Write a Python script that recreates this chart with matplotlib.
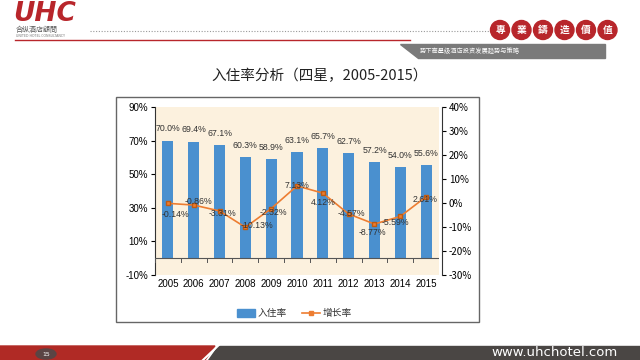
import matplotlib
matplotlib.use("Agg")
import matplotlib.pyplot as plt
from matplotlib.patches import Rectangle, Ellipse, Polygon, Circle
import numpy as np

plt.rcParams['font.family'] = ['Noto Sans CJK SC', 'DejaVu Sans']

years = ['2005', '2006', '2007', '2008', '2009', '2010', '2011', '2012', '2013', '2014', '2015']
occupancy = [70.0, 69.4, 67.1, 60.3, 58.9, 63.1, 65.7, 62.7, 57.2, 54.0, 55.6]
growth = [-0.14, -0.86, -3.31, -10.13, -2.32, 7.13, 4.12, -4.57, -8.77, -5.59, 2.61]
left_ticks = [-10, 10, 30, 50, 70, 90]
right_ticks = [-30, -20, -10, 0, 10, 20, 30, 40]
title = '入住率分析（四星，2005-2015）'
legend_labels = ['入住率', '增长率']

NUM = ['Liberation Sans', 'Noto Sans CJK SC']

W, H = 640, 360
fig = plt.figure(figsize=(6.4, 3.6), dpi=100)
fig.patch.set_facecolor('white')

ov = fig.add_axes([0, 0, 1, 1], zorder=0)
ov.set_xlim(0, W); ov.set_ylim(H, 0); ov.axis('off')

# header
ov.text(13, 14, 'UHC', fontsize=19, fontweight='bold', color='#b8262b', va='center', ha='left',
        family=['DejaVu Sans'], style='italic')
ov.text(16, 30, '合纵酒店顧問', fontsize=5, color='#555555', va='center', ha='left')
ov.text(16, 36, 'UNITED HOTEL CONSULTANCY', fontsize=2.3, color='#777777', va='center', ha='left',
        family=['DejaVu Sans'])
ov.plot([90, 490], [31, 31], color='#999999', lw=0.8, ls=(0, (1, 1.5)))
ov.plot([15, 410], [40, 40], color='#b8262b', lw=1.0)
for i, ch in enumerate('專業鑄造價值'):
    cx = 500 + i * 21.5
    ov.add_patch(Circle((cx, 30), 9.5, color='#b8262b'))
    ov.text(cx, 30, ch, fontsize=7, color='white', ha='center', va='center', fontweight='bold')
ov.add_patch(Polygon([[400, 44], [605, 44], [605, 58], [418, 58]], closed=True, color='#7a7a7a'))
ov.text(420, 51, '势下高星级酒店投资发展趋势与策略', fontsize=4.5, color='white', ha='left', va='center')

# title
ov.text(320, 76, title, fontsize=10.5, color='#222222', ha='center', va='center')

# chart frame
ov.add_patch(Rectangle((116, 97), 363, 225, fill=False, ec='#666666', lw=1.0))

# footer
ov.add_patch(Polygon([[0, 346], [215, 346], [205, 360], [0, 360]], closed=True, color='#b02a25'))
ov.add_patch(Polygon([[218, 346], [640, 346], [640, 360], [208, 360]], closed=True, color='#4a4644'))
ov.plot([203, 221], [360, 343], color='white', lw=1.5)
ov.add_patch(Ellipse((46, 354), 20, 10, color='#5a4444'))
ov.text(46, 354, '15', fontsize=4.5, color='white', ha='center', va='center', family=['DejaVu Sans'])
ov.text(618, 353, 'www.uhchotel.com', fontsize=9.5, color='white', ha='right', va='center',
        family=['DejaVu Sans'])

# main chart axes
x0, x1, y0, y1 = 155, 439, 107, 275
ax = fig.add_axes([x0 / W, 1 - y1 / H, (x1 - x0) / W, (y1 - y0) / H], zorder=2)
ax.set_facecolor('#fcf1de')
x = np.arange(len(years))
ax.bar(x, occupancy, width=0.43, color='#4a90cf', zorder=2)
ax.set_xlim(-0.5, len(years) - 0.5)
ax.set_ylim(-10, 90)
ax.set_yticks(left_ticks)
ax.set_yticklabels([f'{t}%' for t in left_ticks], family=NUM)
ax.axhline(0, color='#555555', lw=0.8, zorder=3)
ax.set_xticks(x)
ax.set_xticklabels(years, family=NUM)
ax.tick_params(axis='x', length=0, pad=3, labelsize=7)
ax.tick_params(axis='y', length=3, labelsize=7, pad=2)
for xx in np.arange(len(years) + 1) - 0.5:
    ax.plot([xx, xx], [0, -2.5], color='#555555', lw=0.7, zorder=3)
for s in ['top', 'right', 'bottom']:
    ax.spines[s].set_visible(False)
ax.spines['left'].set_color('#333333')
for xi, v in zip(x, occupancy):
    ax.text(xi, v + 7, f'{v:.1f}%', ha='center', va='center', fontsize=6.3, color='#333333',
            zorder=5, family=NUM)

ax2 = ax.twinx()
ax2.set_ylim(-30, 40)
ax2.set_yticks(right_ticks)
ax2.set_yticklabels([f'{t}%' for t in right_ticks], family=NUM)
ax2.tick_params(axis='y', length=3, labelsize=7, pad=2)
for s in ['top', 'left', 'bottom']:
    ax2.spines[s].set_visible(False)
ax2.spines['right'].set_color('#333333')
ax2.spines['right'].set_position(('outward', 2))
ax2.plot(x, growth, color='#ed7d31', lw=1.2, marker='s', ms=3, mfc='#ed7d31', mec='#c05a10', zorder=4)
offsets = [(0.3, -4.6), (0.2, 1.5), (0.1, -1.0), (0.45, 0.8), (0.1, -1.5), (0, 0), (0, -4.0),
           (0.1, 0.3), (-0.1, -3.5), (-0.2, -2.5), (-0.05, -1.0)]
for xi, v, (dx, dy) in zip(x, growth, offsets):
    ax2.text(xi + dx, v + dy, f'{v:.2f}%', ha='center', va='center', fontsize=6.3,
             color='#333333', zorder=6, family=NUM)

# legend
ov2 = fig.add_axes([0, 0, 1, 1], zorder=3)
ov2.set_xlim(0, W); ov2.set_ylim(H, 0); ov2.axis('off')
ov2.add_patch(Rectangle((237, 309), 18, 8, color='#4a90cf'))
ov2.text(258, 313, legend_labels[0], fontsize=7, color='#333333', va='center', ha='left')
ov2.plot([302, 320], [313, 313], color='#ed7d31', lw=1.2)
ov2.plot([311], [313], marker='s', ms=3, color='#ed7d31')
ov2.text(323, 313, legend_labels[1], fontsize=7, color='#333333', va='center', ha='left')

fig.savefig('out.png', dpi=100)
